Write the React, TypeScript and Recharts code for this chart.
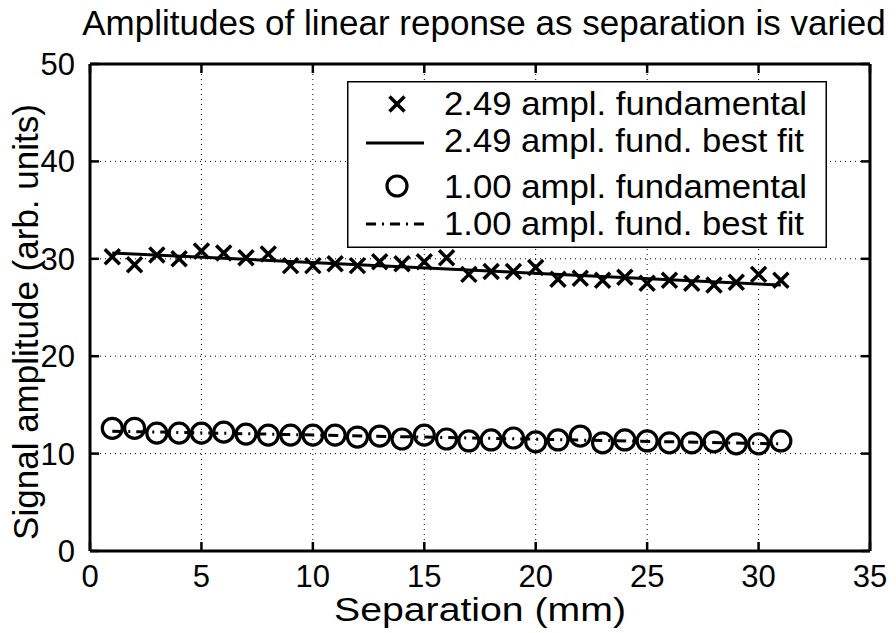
import React from 'react';
import {
  ComposedChart,
  XAxis,
  YAxis,
  CartesianGrid,
  Scatter,
  Line,
  Legend,
  Customized,
} from 'recharts';

const FONT = '"Liberation Sans", Arial, Helvetica, sans-serif';

// ---- data ----
const separation = [1, 2, 3, 4, 5, 6, 7, 8, 9, 10, 11, 12, 13, 14, 15, 16, 17, 18, 19, 20, 21, 22, 23, 24, 25, 26, 27, 28, 29, 30, 31];
const amp249 = [30.2, 29.4, 30.4, 30.0, 30.8, 30.6, 30.1, 30.5, 29.3, 29.3, 29.5, 29.3, 29.7, 29.5, 29.7, 30.1, 28.4, 28.7, 28.7, 29.1, 27.9, 28.0, 27.8, 28.1, 27.5, 27.8, 27.5, 27.3, 27.6, 28.4, 27.8];
const amp100 = [12.6, 12.6, 12.1, 12.1, 12.1, 12.2, 12.0, 11.9, 11.9, 11.9, 11.9, 11.7, 11.8, 11.5, 11.9, 11.5, 11.3, 11.4, 11.6, 11.2, 11.4, 11.8, 11.1, 11.4, 11.3, 11.1, 11.1, 11.2, 11.0, 11.0, 11.3];
const fitX = [1, 31];
const fit249 = [30.6, 27.3];
const fit100 = [12.3, 11.0];

const xTicks = [0, 5, 10, 15, 20, 25, 30, 35];
const yTicks = [0, 10, 20, 30, 40, 50];

const legendLabels = [
  '2.49 ampl. fundamental',
  '2.49 ampl. fund. best fit',
  '1.00 ampl. fundamental',
  '1.00 ampl. fund. best fit',
];
const titleText = 'Amplitudes of linear reponse as separation is varied';
const xLabelText = 'Separation (mm)';
const yLabelText = 'Signal amplitude (arb. units)';

// ---- tables built from the arrays ----
const rows249 = separation.map((x, i) => ({ x, y: amp249[i] }));
const rows100 = separation.map((x, i) => ({ x, y: amp100[i] }));
const fitRows249 = fitX.map((x, i) => ({ x, y: fit249[i] }));
const fitRows100 = fitX.map((x, i) => ({ x, y: fit100[i] }));

// ---- layout ----
const W = 896;
const H = 633;
const MARGIN = { top: 63, right: 25, bottom: 42, left: 30 };
const PLOT_TOP = MARGIN.top + 1; // top axis height 1
const PLOT_RIGHT = W - MARGIN.right - 1; // right axis width 1

const DASH_DOT = '10 6 2 6';
const TICK_LEN = 9;
const TICK_W = 2.5;
const X_MARGIN = 14;
const Y_MARGIN = 15;
const TICK_FONT = 31;

const CrossShape = (props: any) => {
  const { cx, cy } = props;
  if (cx == null || cy == null) return null;
  const s = 7.5;
  return (
    <g>
      <line x1={cx - s} y1={cy - s} x2={cx + s} y2={cy + s} stroke="#000" strokeWidth={3.5} />
      <line x1={cx - s} y1={cy + s} x2={cx + s} y2={cy - s} stroke="#000" strokeWidth={3.5} />
    </g>
  );
};

const CircleShape = (props: any) => {
  const { cx, cy } = props;
  if (cx == null || cy == null) return null;
  return <circle cx={cx} cy={cy} r={10} fill="none" stroke="#000" strokeWidth={3.2} />;
};

// inward tick marks on both opposite sides (MATLAB box style) + label
const BottomTick = (p: any) => {
  const { x, y, payload } = p;
  const axisY = y - X_MARGIN;
  return (
    <g>
      <path d={`M${x},${axisY}V${axisY - TICK_LEN}`} stroke="#000" strokeWidth={TICK_W} fill="none" />
      <path d={`M${x},${PLOT_TOP}V${PLOT_TOP + TICK_LEN}`} stroke="#000" strokeWidth={TICK_W} fill="none" />
      <text x={x} y={y} dy="0.71em" textAnchor="middle" fontSize={TICK_FONT} fontFamily={FONT} fill="#000" stroke="none">
        {payload.value}
      </text>
    </g>
  );
};
const LeftTick = (p: any) => {
  const { x, y, payload } = p;
  const axisX = x + Y_MARGIN;
  return (
    <g>
      <path d={`M${axisX},${y}H${axisX + TICK_LEN}`} stroke="#000" strokeWidth={TICK_W} fill="none" />
      <path d={`M${PLOT_RIGHT - TICK_LEN},${y}H${PLOT_RIGHT}`} stroke="#000" strokeWidth={TICK_W} fill="none" />
      <text x={x} y={y} dy="0.355em" textAnchor="end" fontSize={TICK_FONT} fontFamily={FONT} fill="#000" stroke="none">
        {payload.value}
      </text>
    </g>
  );
};

const LegendBox = () => {
  const textX = 97;
  const baselines = [34, 71, 117, 154];
  const centers = [23, 62, 105, 143];
  const widths = [363, 360, 363, 360];
  return (
    <svg width={480} height={167} style={{ display: 'block' }}>
      <rect x={0.75} y={0.75} width={478.5} height={165.5} fill="#fff" stroke="#000" strokeWidth={1.5} />
      <CrossShape cx={50} cy={centers[0]} />
      <line x1={19} y1={centers[1]} x2={77} y2={centers[1]} stroke="#000" strokeWidth={3} />
      <CircleShape cx={50} cy={centers[2]} />
      <line x1={19} y1={centers[3]} x2={77} y2={centers[3]} stroke="#000" strokeWidth={3} strokeDasharray={DASH_DOT} />
      {legendLabels.map((t, i) => (
        <text key={t} x={textX} y={baselines[i]} fontSize={33} fontFamily={FONT} fill="#000" textLength={widths[i]} lengthAdjust="spacingAndGlyphs">
          {t}
        </text>
      ))}
    </svg>
  );
};

const Labels = () => (
  <g fontFamily={FONT} fill="#000">
    <text x={484} y={35} fontSize={35} textAnchor="middle">{titleText}</text>
    <text x={480} y={621} fontSize={33} textAnchor="middle" textLength={292} lengthAdjust="spacingAndGlyphs">
      {xLabelText}
    </text>
    <text transform="translate(38,322) rotate(-90)" fontSize={35} textAnchor="middle">{yLabelText}</text>
  </g>
);

const axisLine = { stroke: '#000', strokeWidth: 3 };

export default function App() {
  return (
    <div style={{ position: 'absolute', left: 0, top: 0, width: W, height: H, background: '#fff', fontFamily: FONT }}>
      <ComposedChart width={W} height={H} margin={MARGIN}>
        <CartesianGrid stroke="#000" strokeWidth={1} strokeDasharray="1 4" />
        <XAxis xAxisId="top" orientation="top" type="number" dataKey="x" domain={[0, 35]} ticks={xTicks} interval={0} height={1} tickSize={0} tickLine={false} tick={false} axisLine={axisLine} />
        <YAxis yAxisId="right" orientation="right" type="number" domain={[0, 50]} ticks={yTicks} interval={0} width={1} tickSize={0} tickLine={false} tick={false} axisLine={axisLine} />
        <XAxis type="number" dataKey="x" domain={[0, 35]} ticks={xTicks} interval={0} height={40} tickSize={0} tickMargin={X_MARGIN} tickLine={false} tick={BottomTick} axisLine={axisLine} />
        <YAxis type="number" domain={[0, 50]} ticks={yTicks} interval={0} width={60} tickSize={0} tickMargin={Y_MARGIN} tickLine={false} tick={LeftTick} axisLine={axisLine} />
        <Scatter data={rows249} dataKey="y" shape={CrossShape} isAnimationActive={false} />
        <Line data={fitRows249} dataKey="y" type="linear" stroke="#000" strokeWidth={3} dot={false} activeDot={false} isAnimationActive={false} />
        <Scatter data={rows100} dataKey="y" shape={CircleShape} isAnimationActive={false} />
        <Line data={fitRows100} dataKey="y" type="linear" stroke="#000" strokeWidth={3} strokeDasharray={DASH_DOT} dot={false} activeDot={false} isAnimationActive={false} />
        <Legend layout="vertical" align="center" verticalAlign="middle" wrapperStyle={{ left: 347, top: 81, width: 480, height: 167 }} content={() => <LegendBox />} />
        <Customized component={<Labels />} />
      </ComposedChart>
    </div>
  );
}
